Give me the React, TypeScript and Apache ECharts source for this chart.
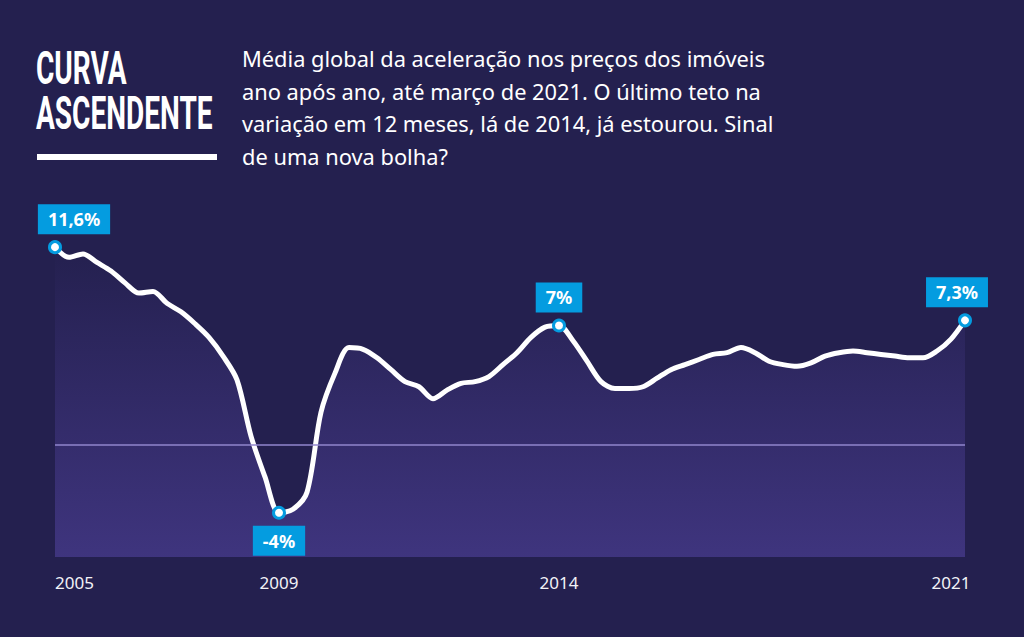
import React, { useEffect, useRef } from "react";
import * as echarts from "echarts";

// Quarterly positions on the time axis, 2005 to March 2021
const quarterPositions: number[] = Array.from({ length: 66 }, (_, i) => 2005 + i / 4);

// Global house price growth, year over year (%)
const growth: number[] = [
  11.6, 11.0, 11.2, 10.7, 10.2, 9.5, 8.9, 9.0, 8.3, 7.8, 7.1, 6.3, 5.2, 3.8, 0.5, -1.9,
  -4, -3.8, -2.8, 1.9, 4.2, 5.7, 5.6, 5.1, 4.4, 3.7, 3.4, 2.7, 3.2, 3.6, 3.7, 4.0,
  4.7, 5.4, 6.3, 6.9, 7, 6.1, 4.9, 3.7, 3.3, 3.3, 3.4, 3.9, 4.4, 4.7, 5.0, 5.3,
  5.4, 5.7, 5.4, 4.9, 4.7, 4.6, 4.8, 5.2, 5.4, 5.5, 5.4, 5.3, 5.2, 5.1, 5.1, 5.5,
  6.2, 7.3,
];

// Points called out with a value box
const highlightIdx: number[] = [0, 16, 36, 65];

// Years printed under the chart
const yearLabels: number[] = [2005, 2009, 2014, 2021];

const titleLines: string[] = ["CURVA", "ASCENDENTE"];
const subtitleLines: string[] = [
  "Média global da aceleração nos preços dos imóveis",
  "ano após ano, até março de 2021. O último teto na",
  "variação em 12 meses, lá de 2014, já estourou. Sinal",
  "de uma nova bolha?",
];

const BG = "#24204f";
const BLUE = "#049ce0";

const labelPlacement = [
  { position: "top", offset: [19, 0] },
  { position: "bottom", offset: [0, 0] },
  { position: "top", offset: [0, 0] },
  { position: "top", offset: [-8, 0] },
];

const fmt = (v: number) => String(v).replace(".", ",") + "%";

export default function App() {
  const ref = useRef<HTMLDivElement>(null);

  useEffect(() => {
    if (!ref.current) return;
    const chart = echarts.init(ref.current, undefined, { renderer: "svg" });

    const lineData = quarterPositions.map((x, i) => [x, growth[i]]);
    const calloutData = highlightIdx.map((idx, k) => ({
      value: [quarterPositions[idx], growth[idx]],
      label: {
        position: labelPlacement[k].position,
        offset: labelPlacement[k].offset,
      },
    }));

    const graphics: any[] = [];
    titleLines.forEach((t, i) => {
      graphics.push({
        type: "text",
        x: 36,
        y: 68.5 + i * 45,
        scaleX: 0.61,
        style: {
          text: t,
          fontFamily: "Roboto",
          fontWeight: 700,
          fontSize: 46,
          fill: "#ffffff",
          verticalAlign: "middle",
        },
      });
    });
    graphics.push({
      type: "rect",
      shape: { x: 37, y: 154, width: 180, height: 6 },
      style: { fill: "#ffffff" },
    });
    subtitleLines.forEach((t, i) => {
      graphics.push({
        type: "text",
        x: 242,
        y: 58.5 + i * 32.8,
        scaleX: 1.04,
        style: {
          text: t,
          fontFamily: "Noto Sans",
          fontSize: 21,
          fill: "#ffffff",
          verticalAlign: "middle",
        },
      });
    });

    chart.setOption({
      animation: false,
      backgroundColor: BG,
      grid: { left: 55, right: 59, top: 225, bottom: 80 },
      xAxis: {
        type: "value",
        min: 2005,
        max: 2021.25,
        interval: 1,
        axisLine: { show: false },
        axisTick: { show: false },
        splitLine: { show: false },
        axisLabel: {
          color: "#f2f2f7",
          fontFamily: "Noto Sans",
          fontSize: 17,
          margin: 17,
          alignMinLabel: "left",
          formatter: (v: number) => (yearLabels.includes(v) ? String(v) : ""),
        },
      },
      yAxis: { type: "value", min: -6.6, max: 12.9, show: false },
      graphic: graphics,
      series: [
        {
          type: "line",
          data: lineData,
          showSymbol: false,
          smooth: 0.3,
          z: 2,
          lineStyle: { color: "#ffffff", width: 5, cap: "round", join: "round" },
          areaStyle: {
            origin: "start",
            color: new echarts.graphic.LinearGradient(0, 0, 0, 1, [
              { offset: 0, color: "rgba(74,61,146,0)" },
              { offset: 1, color: "rgba(74,61,146,1)" },
            ]),
          },
          markLine: {
            silent: true,
            symbol: "none",
            label: { show: false },
            lineStyle: { color: "#9186cc", width: 1.5, type: "solid" },
            data: [{ yAxis: 0 }],
          },
        },
        {
          type: "scatter",
          data: calloutData,
          z: 4,
          symbol: "circle",
          symbolSize: 11,
          itemStyle: { color: "#ffffff", borderColor: BLUE, borderWidth: 3, opacity: 1 },
          label: {
            show: true,
            distance: 6,
            opacity: 1,
            formatter: (p: any) => fmt(p.value[1]),
            color: "#ffffff",
            fontFamily: "Noto Sans",
            fontWeight: "bold",
            fontSize: 18,
            lineHeight: 22,
            backgroundColor: BLUE,
            padding: [4, 10],
          },
        },
      ],
    });

    return () => chart.dispose();
  }, []);

  return (
    <div
      ref={ref}
      style={{ position: "fixed", left: 0, top: 0, width: 1024, height: 637 }}
    />
  );
}
